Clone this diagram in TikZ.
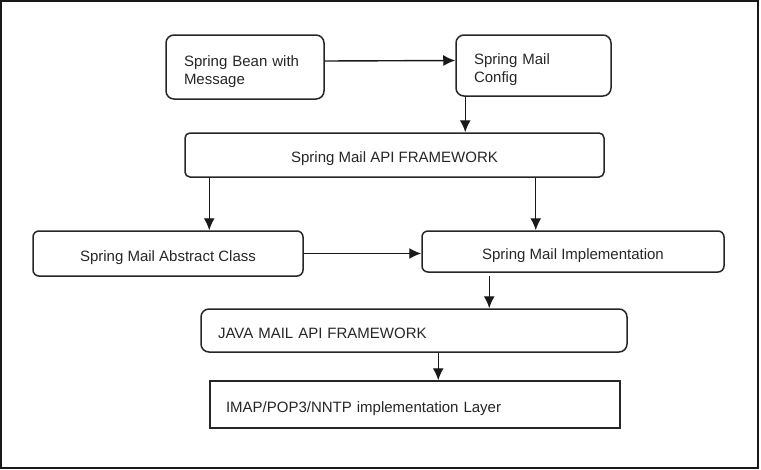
\documentclass[tikz,border=0pt]{standalone}
\usepackage{fontspec}
\setmainfont{Liberation Sans}
\usepackage{tikz}
\usetikzlibrary{arrows.meta}
\usetikzlibrary{calc}
\tikzset{
	box/.style={draw=black!85,line width=1.5pt,rounded corners=6pt,inner sep=0pt,text=black!85,font=\fontsize{15}{18}\selectfont,text height=19pt,text depth=4pt},
	topbox/.style={draw=black!85,line width=1.5pt,rounded corners=8pt,inner sep=0pt,text=black!85,font=\fontsize{15}{18}\selectfont,text height=20pt,align=left},
	arr/.style={-{Latex[length=12pt,width=11pt]},line width=1.4pt,draw=black!90}
}

\begin{document}
\begin{tikzpicture}[x=1pt,y=-1pt]
			\useasboundingbox (0,0) rectangle (761,469);
			\draw[line width=1.6pt,black!90] (1,1) rectangle (758,468);
			\node[topbox,minimum width=158pt,minimum height=64pt,text width=122pt] (bean) at (245,67) {Spring Bean with\\Message};
			\node[topbox,minimum width=155pt,minimum height=61pt,text width=119pt] (config) at (533.5,65.5) {Spring Mail\\Config};
			\node[box,rounded corners=5pt,minimum width=419pt,minimum height=44pt] (api) at (394.5,155) {Spring Mail API FRAMEWORK};
			\node[box,minimum width=270pt,minimum height=45pt] (abstract) at (168,253.5) {Spring Mail Abstract Class};
			\node[box,minimum width=302pt,minimum height=41pt] (impl) at (573,251.5) {Spring Mail Implementation};
			\node[box,rounded corners=8pt,minimum width=426pt,minimum height=43pt,text width=392pt,align=left] (java) at (414,330.5) {JAVA MAIL API FRAMEWORK};
			\node[box,rounded corners=0pt,minimum width=410pt,minimum height=47pt,text width=378pt,align=left] (imap) at (415,404.5) {IMAP/POP3/NNTP implementation Layer};
			\draw[arr] ([yshift=6pt]bean.east) -- ([yshift=5pt]config.west);
			\draw[arr] ([xshift=10pt]config.south west) -- ([xshift=10pt]config.south west |- api.north);
			\draw[arr] ([xshift=25pt]api.south west) -- ([xshift=25pt]api.south west |- abstract.north);
			\draw[arr] ([xshift=-69pt]api.south east) -- ([xshift=-69pt]api.south east |- impl.north);
			\draw[arr] (abstract.east) -- (impl.west |- abstract.east);
			\draw[arr] ([xshift=68pt,yshift=-3pt]impl.south west) -- ([xshift=68pt]impl.south west |- java.north);
			\draw[arr] ([xshift=238pt]java.south west) -- ([xshift=238pt]java.south west |- imap.north);
		\end{tikzpicture}
\end{document}
